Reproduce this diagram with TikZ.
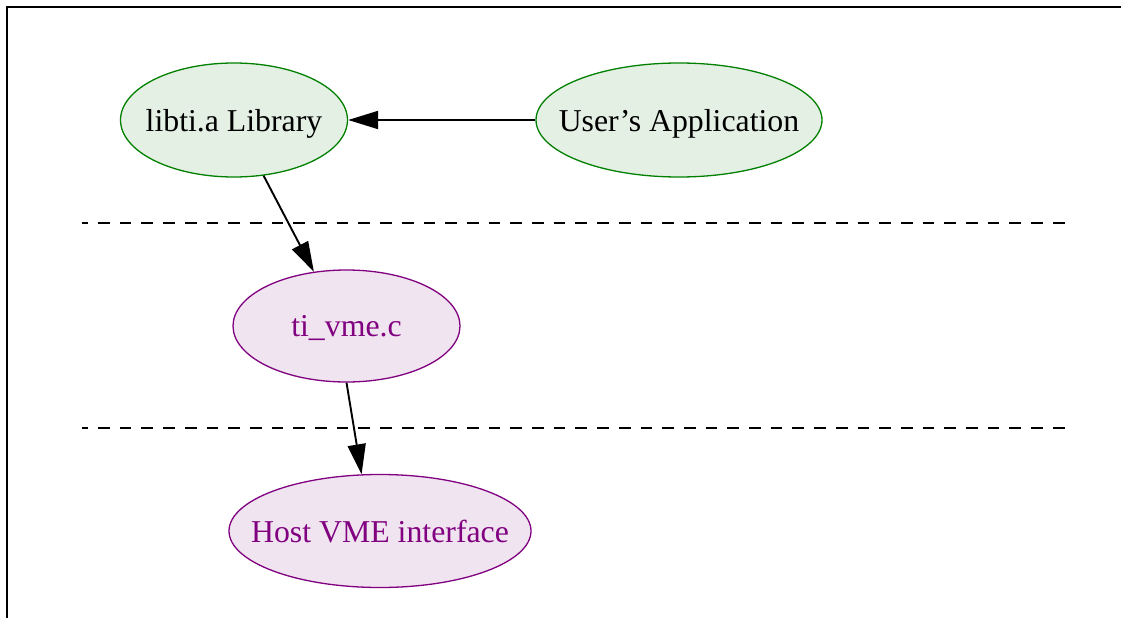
\documentclass[tikz,border=0pt]{standalone}
\usepackage{fontspec}
\setmainfont{Liberation Serif}
\usetikzlibrary{shapes.geometric,arrows.meta}
\definecolor{gborder}{RGB}{0,128,0}
\definecolor{gfill}{RGB}{229,240,228}
\definecolor{pborder}{RGB}{128,0,128}
\definecolor{pfill}{RGB}{240,228,240}
\newcommand{\zw}[1]{\makebox[0pt]{#1}}
\begin{document}
\begin{tikzpicture}[x=1pt,y=-1pt,
  gnode/.style={ellipse,draw=gborder,fill=gfill,line width=1.3pt,inner sep=0pt,text depth=0pt,text=black,font=\fontsize{31.8}{38}\selectfont},
  pnode/.style={ellipse,draw=pborder,fill=pfill,line width=1.3pt,inner sep=0pt,text depth=0pt,text=pborder,font=\fontsize{31.8}{38}\selectfont},
  arr/.style={line width=1.9pt,-{Triangle[length=30pt,width=18pt]}},
  sep/.style={line width=2.2pt,dash pattern=on 11.7pt off 10pt,dash phase=5.7pt}]
\useasboundingbox (0,0) rectangle (1121,618);
\draw[line width=2pt] (6.5,620) -- (6.5,7) -- (1123,7);
\node[gnode,minimum width=227pt,minimum height=114pt] (lib) at (234,120) {\zw{libti.a Library}};
\node[gnode,minimum width=286pt,minimum height=114pt] (app) at (679,120) {\zw{User’s Application}};
\node[pnode,minimum width=227pt,minimum height=112pt] (ti) at (346.5,326) {\zw{ti\_vme.c}};
\node[pnode,minimum width=302pt,minimum height=113pt] (host) at (380,531) {\zw{Host VME interface}};
\coordinate (s1a) at (82,223);
\coordinate (s1b) at (1065,223);
\coordinate (s2a) at (82,428);
\coordinate (s2b) at (1065,428);
\draw[sep] (s1a) -- (s1b);
\draw[sep] (s2a) -- (s2b);
\draw[arr] (app) -- (lib);
\draw[arr] (lib.-62) -- (ti.121);
\draw[arr] (ti.-90) -- (host.108);
\end{tikzpicture}
\end{document}
